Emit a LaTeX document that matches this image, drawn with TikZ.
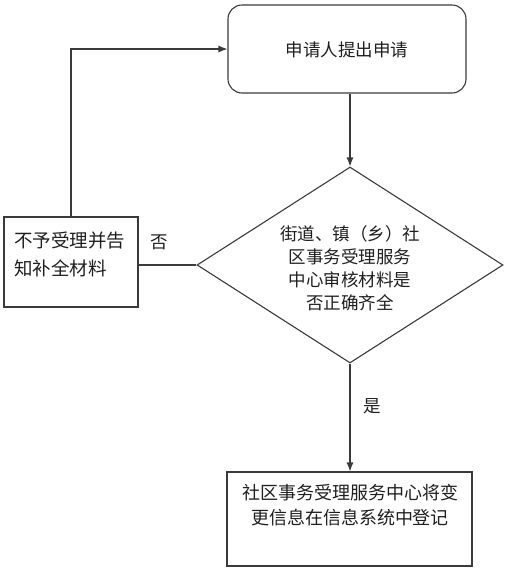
\documentclass[tikz,border=0pt]{standalone}
\usepackage{fontspec}
\newfontfamily\cjk{Noto Sans CJK SC}
\usetikzlibrary{shapes.geometric,arrows.meta}
\definecolor{ln}{HTML}{3A3A3A}
\definecolor{tx}{HTML}{1E1E1E}
\tikzset{
  box/.style={draw=ln, line width=1.1pt, inner sep=0pt},
  rbox/.style={box, rounded corners=14pt},
  txt/.style={text=tx, font=\cjk\fontsize{17.5}{23}\selectfont, inner sep=0pt},
  conn/.style={draw=ln, line width=1.1pt},
  arr/.style={conn, -{Latex[length=9pt,width=7pt]}}
}
\begin{document}
\begin{tikzpicture}[x=1pt,y=-1pt]
\useasboundingbox (0,0) rectangle (516,574);
% boxes
\node[rbox, minimum width=238pt, minimum height=88pt] (apply) at (347,49) {};
\node[txt] (applyt) at (347,50) {申请人提出申请};
\node[draw=ln, line width=1.1pt, shape=diamond, minimum width=306pt, minimum height=196pt, inner sep=0pt] (check) at (350,265) {};
\node[txt, align=center] (checkt) at (350,268) {街道、镇（乡）社\\区事务受理服务\\中心审核材料是\\否正确齐全};
\node[box, minimum width=134pt, minimum height=90pt] (reject) at (71,262) {};
\node[txt, font=\cjk\fontsize{18.5}{28}\selectfont, align=left, anchor=west] (rejectt) at (14,254) {不予受理并告\\知补全材料};
\node[box, minimum width=245pt, minimum height=94pt] (record) at (349.5,519) {};
\node[txt, font=\cjk\fontsize{18}{25}\selectfont, align=center] (recordt) at (350,505.5) {社区事务受理服务中心将变\\更信息在信息系统中登记};
% labels
\node[txt] (no) at (159,242) {否};
\node[txt] (yes) at (372,406) {是};
% connectors
\draw[arr] (apply.south -| check.north) -- (check.north);
\draw[conn] (check.west) -- (reject.east |- check.west);
\draw[arr] (reject.north) |- (apply.west);
\draw[arr] (check.south) -- (record.north -| check.south);
\end{tikzpicture}
\end{document}
